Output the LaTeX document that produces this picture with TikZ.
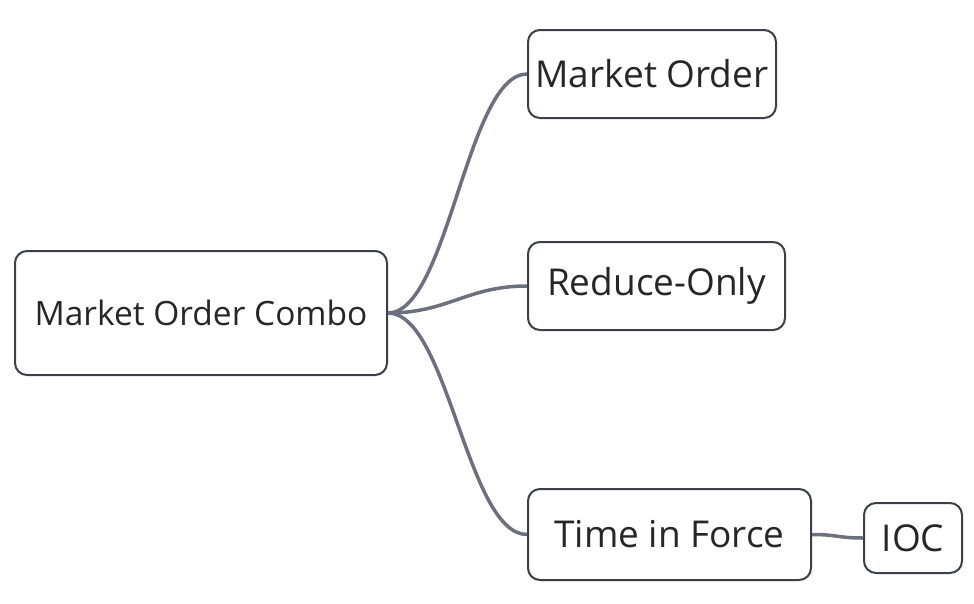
\documentclass[tikz,border=0pt]{standalone}
\usepackage{fontspec}
\setmainfont{Open Sans}
\begin{document}
\begin{tikzpicture}[x=1pt,y=-1pt,
  box/.style={draw={rgb,255:red,60;green,63;blue,72}, line width=2pt, rounded corners=12pt, text=black!85, inner sep=0pt, anchor=center},
  link/.style={line width=3.5pt, color={rgb,255:red,108;green,112;blue,126}}]
\useasboundingbox (0,0) rectangle (974,603);
\node[box, minimum width=372, minimum height=124, font=\fontsize{33.5}{40}\selectfont] (root) at (201,313) {Market Order Combo};
\node[box, minimum width=248, minimum height=88, font=\fontsize{37}{44}\selectfont] (mo) at (652,74) {Market Order};
\node[box, minimum width=257, minimum height=88, font=\fontsize{37}{44}\selectfont] (ro) at (656.5,286) {Reduce-Only};
\node[box, minimum width=283, minimum height=91, font=\fontsize{37}{44}\selectfont] (tif) at (669.5,534.5) {Time in Force};
\node[box, minimum width=98, minimum height=70, font=\fontsize{37}{44}\selectfont] (ioc) at (913,538) {IOC};
\draw[link] (root.east) .. controls +(60,0) and +(-60,0) .. (mo.west);
\draw[link] (root.east) .. controls +(60,0) and +(-60,0) .. (ro.west);
\draw[link] (root.east) .. controls +(60,0) and +(-60,0) .. (tif.west);
\draw[link] (tif.east) .. controls +(25,0) and +(-25,0) .. (ioc.west);
\end{tikzpicture}
\end{document}
